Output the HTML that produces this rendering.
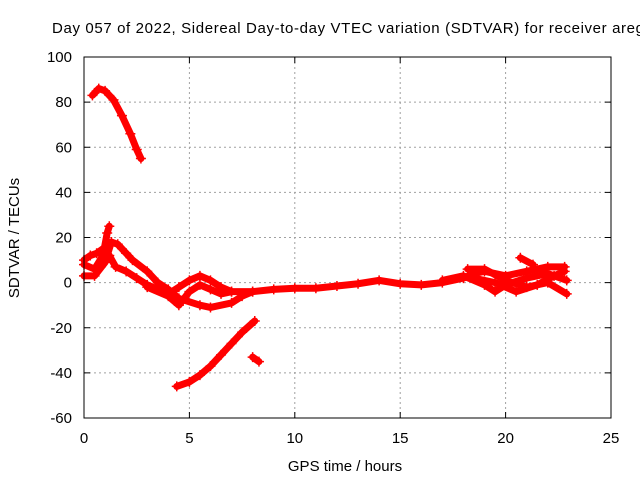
<!DOCTYPE html>
<html><head><meta charset="utf-8"><style>
body{margin:0;background:#fff;}
svg text{font-family:"Liberation Sans",sans-serif;font-size:15px;fill:#000;}
</style></head><body>
<svg id="chart" width="640" height="480">
<text x="52" y="33" textLength="592" lengthAdjust="spacing">Day 057 of 2022, Sidereal Day-to-day VTEC variation (SDTVAR) for receiver areg</text>
<g id="grid"></g>
<g id="ticks"></g>
<g id="series"></g>
<rect x="84" y="57" width="527" height="361" fill="none" stroke="#000"/>
<text x="345" y="471" text-anchor="middle">GPS time / hours</text>
<text transform="translate(19,238) rotate(-90)" text-anchor="middle">SDTVAR / TECUs</text>
</svg>
<script>
const xTicks=[0,5,10,15,20,25];
const yTicks=[-60,-40,-20,0,20,40,60,80,100];
const trackTop=[[0.4,83],[0.7,86],[1.0,85],[1.4,81],[1.8,74],[2.2,66],[2.5,59],[2.7,55]];
const trackLow=[[4.4,-46],[5.0,-44],[5.5,-41],[6.0,-37],[6.5,-32],[7.0,-27],[7.5,-22],[8.1,-17]];
const trackShort=[[8.0,-33],[8.3,-35]];
const trackA=[[0,10],[0.3,12],[0.6,13],[0.9,15],[1.2,12],[1.5,7],[2.0,5],[2.5,2],[3.0,-1],[3.5,-3],[4.0,-5],[4.5,-2],[5.0,1],[5.5,3],[6.0,1],[6.5,-2],[7.0,-4],[8,-4],[9,-3],[10,-2.5],[11,-2.5],[12,-1.5],[13,-0.5],[14,1],[15,-0.5],[16,-1],[17,0],[18,2],[18.5,4],[19,5],[20,3],[21,5],[22,7],[22.8,7]];
const trackB=[[0,3],[0.5,3],[1,9],[1.3,18],[1.6,17],[2,13],[2.3,10],[3,5],[3.5,0],[4,-3],[4.5,-7],[5.5,-10],[6,-11],[7,-9],[7.5,-6],[8,-4]];
const trackC=[[3,-2],[4,-6],[4.5,-10],[5,-4],[5.5,-1],[6,-3],[6.5,-5],[7,-4]];
const trackD=[[0,8],[0.5,6],[0.9,12],[1.1,22],[1.2,25]];
const trackE=[[17,1],[18,3],[19,-1],[19.5,-4],[20,-1],[21,2],[22,4],[22.9,1]];
const trackF=[[18.2,6],[19,6],[20,1],[21,-2],[22,0],[22.9,-5]];
const trackG=[[20.7,11],[21.3,8]];
const trackH=[[18.5,2],[19.5,0],[20.5,-4],[21.5,-1],[22.3,3],[22.8,5]];
const tracks=[trackTop,trackLow,trackShort,trackA,trackB,trackC,trackD,trackE,trackF,trackG,trackH];
const X0=84,X1=611,Y0=418,Y1=57;
const sx=v=>X0+(v-0)/(25-0)*(X1-X0);
const sy=v=>Y0-(v+60)/(160)*(Y0-Y1);
const NS="http://www.w3.org/2000/svg";
function mk(t,a,p){const e=document.createElementNS(NS,t);for(const k in a)e.setAttribute(k,a[k]);p.appendChild(e);return e;}
const grid=document.getElementById('grid'),ticks=document.getElementById('ticks'),series=document.getElementById('series');
xTicks.forEach(t=>{const x=sx(t);
 if(t>0&&t<25){const l=mk('line',{x1:x,x2:x,y1:Y1,y2:Y0,stroke:'#a0a0a0','stroke-dasharray':'2,3'},grid);
 
 }
 mk('line',{x1:x,x2:x,y1:Y0,y2:Y0-6,stroke:'#000'},ticks);mk('line',{x1:x,x2:x,y1:Y1,y2:Y1+6,stroke:'#000'},ticks);
 const tx=mk('text',{x:x,y:Y0+25,'text-anchor':'middle'},ticks);tx.textContent=t;
 
 });
yTicks.forEach(t=>{const y=sy(t);
 if(t>-60&&t<100){const l=mk('line',{x1:X0,x2:X1,y1:y,y2:y,stroke:'#a0a0a0','stroke-dasharray':'2,3'},grid);
 
 }
 mk('line',{x1:X0,x2:X0+6,y1:y,y2:y,stroke:'#000'},ticks);mk('line',{x1:X1,x2:X1-6,y1:y,y2:y,stroke:'#000'},ticks);
 const tx=mk('text',{x:X0-12,y:y+5,'text-anchor':'end'},ticks);tx.textContent=t;
 
 });
tracks.forEach(tr=>{
 const pl=mk('polyline',{points:tr.map(p=>sx(p[0])+','+sy(p[1])).join(' '),fill:'none',stroke:'#f00','stroke-width':7,'stroke-linejoin':'round','stroke-linecap':'round'},series);
 
 
 tr.forEach(p=>{const x=sx(p[0]),y=sy(p[1]);
  const m=mk('path',{d:`M${x-5},${y}H${x+5}M${x},${y-5}V${y+5}`,stroke:'#f00','stroke-width':1.5},series);
  
  });
});
</script>
</body></html>
